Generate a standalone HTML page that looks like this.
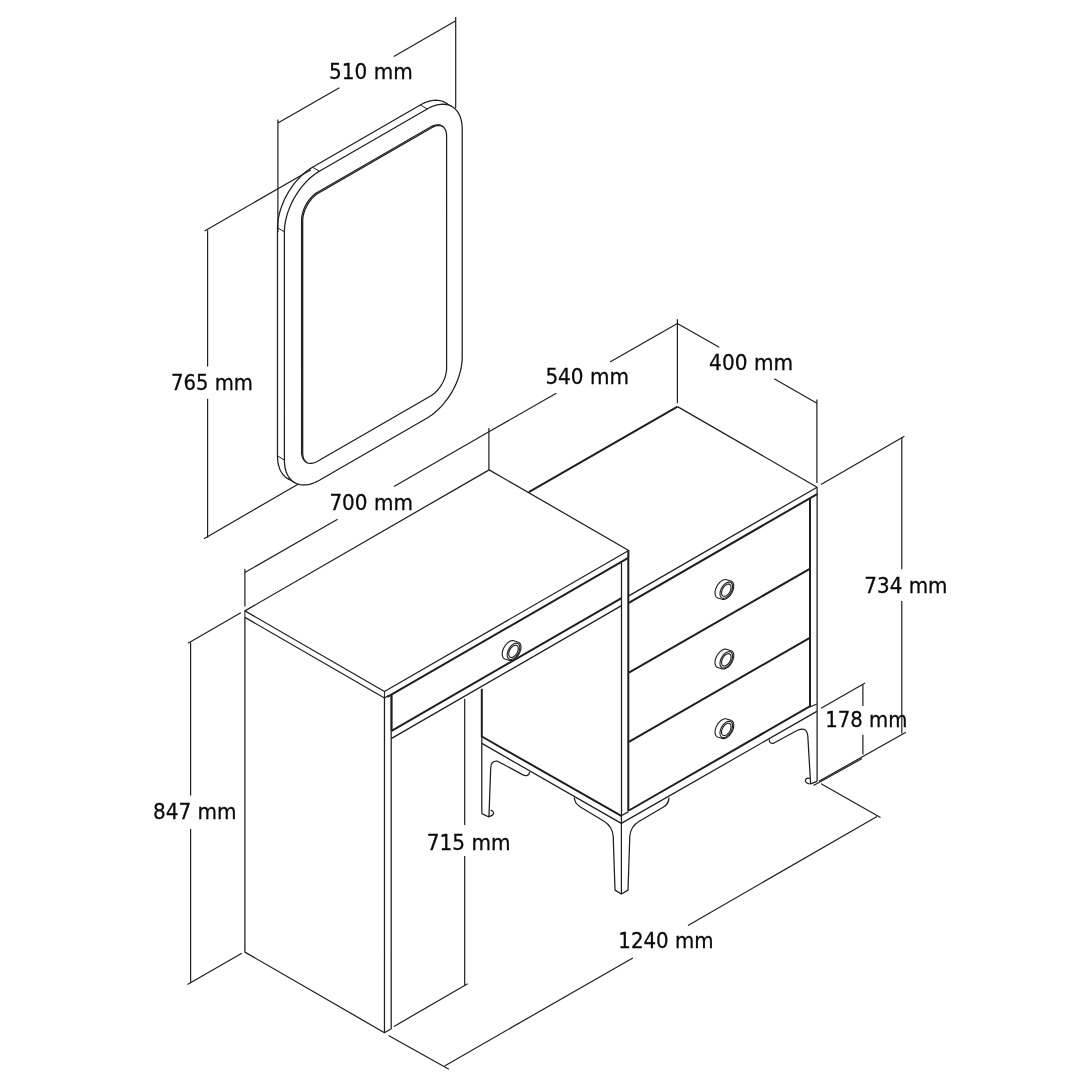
<!DOCTYPE html>
<html><head><meta charset="utf-8"><title>Dimensions</title>
<style>
html,body{margin:0;padding:0;background:#fff;}
svg{display:block;will-change:transform;transform:translateZ(0);}
svg line,svg path,svg rect,svg circle{stroke:#1e1e1e;stroke-linecap:butt;stroke-linejoin:round;}
svg rect,svg circle{vector-effect:non-scaling-stroke;}
svg text{font-family:"DejaVu Sans","Liberation Sans",sans-serif;fill:#0a0a0a;stroke:#0a0a0a;stroke-width:0.3px;}
</style></head><body>
<svg width="1090" height="1090" viewBox="0 0 1090 1090">
<rect x="0" y="0" width="1090" height="1090" fill="#fff" stroke="none" style="stroke:none"/>
<path d="M455.30,125.15 L455.23,122.55 L455.00,120.05 L454.63,117.65 L454.11,115.38 L453.44,113.23 L452.64,111.22 L451.69,109.36 L450.61,107.65 L449.40,106.11 L448.07,104.73 L446.61,103.52 L445.05,102.50 L443.38,101.66 L441.61,101.00 L439.74,100.54 L437.80,100.26 L435.78,100.18 L433.69,100.30 L431.55,100.60 L429.36,101.10 L427.13,101.79 L424.87,102.66 L422.59,103.72 L420.30,104.95 L312.50,167.19 L310.21,168.60 L307.93,170.18 L305.67,171.91 L303.44,173.80 L301.25,175.83 L299.11,178.00 L297.02,180.30 L295.00,182.71 L293.06,185.23 L291.19,187.84 L289.42,190.54 L287.75,193.31 L286.19,196.15 L284.73,199.03 L283.40,201.95 L282.19,204.89 L281.11,207.85 L280.16,210.80 L279.36,213.74 L278.69,216.66 L278.17,219.53 L277.80,222.35 L277.57,225.11 L277.50,227.80 L277.50,456.00 L277.57,458.60 L277.80,461.10 L278.17,463.49 L278.69,465.77 L279.36,467.91 L280.16,469.92 L281.11,471.78 L282.19,473.49 L283.40,475.04 L284.73,476.42 L286.19,477.62 L287.75,478.65 L289.42,479.49 L291.19,480.15 L293.06,480.61 L295.00,480.88 L297.02,480.96 L299.11,480.85 L301.25,480.54 L303.44,480.05 L305.67,479.36 L307.93,478.48 L310.21,477.43 L312.50,476.19 L420.30,413.95 L422.59,412.55 L424.87,410.97 L427.13,409.24 L429.36,407.35 L431.55,405.31 L433.69,403.15 L435.78,400.85 L437.80,398.44 L439.74,395.92 L441.61,393.30 L443.38,390.61 L445.05,387.83 L446.61,385.00 L448.07,382.12 L449.40,379.20 L450.61,376.25 L451.69,373.30 L452.64,370.35 L453.44,367.41 L454.11,364.49 L454.63,361.62 L455.00,358.79 L455.23,356.03 L455.30,353.35 Z" stroke-width="1.25" fill="none" />
<path d="M462.20,129.15 L462.13,126.55 L461.90,124.05 L461.53,121.65 L461.01,119.38 L460.34,117.23 L459.54,115.22 L458.59,113.36 L457.51,111.65 L456.30,110.11 L454.97,108.73 L453.51,107.52 L451.95,106.50 L450.28,105.66 L448.51,105.00 L446.64,104.54 L444.70,104.26 L442.68,104.18 L440.59,104.30 L438.45,104.60 L436.26,105.10 L434.03,105.79 L431.77,106.66 L429.49,107.72 L427.20,108.95 L319.40,171.19 L317.11,172.60 L314.83,174.18 L312.57,175.91 L310.34,177.80 L308.15,179.83 L306.01,182.00 L303.92,184.30 L301.90,186.71 L299.96,189.23 L298.09,191.84 L296.32,194.54 L294.65,197.31 L293.09,200.15 L291.63,203.03 L290.30,205.95 L289.09,208.89 L288.01,211.85 L287.06,214.80 L286.26,217.74 L285.59,220.66 L285.07,223.53 L284.70,226.35 L284.47,229.11 L284.40,231.80 L284.40,460.00 L284.47,462.60 L284.70,465.10 L285.07,467.49 L285.59,469.77 L286.26,471.91 L287.06,473.92 L288.01,475.78 L289.09,477.49 L290.30,479.04 L291.63,480.42 L293.09,481.62 L294.65,482.65 L296.32,483.49 L298.09,484.15 L299.96,484.61 L301.90,484.88 L303.92,484.96 L306.01,484.85 L308.15,484.54 L310.34,484.05 L312.57,483.36 L314.83,482.48 L317.11,481.43 L319.40,480.19 L427.20,417.95 L429.49,416.55 L431.77,414.97 L434.03,413.24 L436.26,411.35 L438.45,409.31 L440.59,407.15 L442.68,404.85 L444.70,402.44 L446.64,399.92 L448.51,397.30 L450.28,394.61 L451.95,391.83 L453.51,389.00 L454.97,386.12 L456.30,383.20 L457.51,380.25 L458.59,377.30 L459.54,374.35 L460.34,371.41 L461.01,368.49 L461.53,365.62 L461.90,362.79 L462.13,360.03 L462.20,357.35 Z" stroke-width="1.25" fill="#fff" />
<line x1="277.50" y1="227.80" x2="284.40" y2="231.80" stroke-width="1.0"/>
<line x1="312.50" y1="167.19" x2="319.40" y2="171.19" stroke-width="1.0"/>
<line x1="420.30" y1="104.95" x2="427.20" y2="108.95" stroke-width="1.0"/>
<line x1="277.50" y1="456.00" x2="284.40" y2="460.00" stroke-width="1.0"/>
<line x1="445.05" y1="102.50" x2="451.95" y2="106.50" stroke-width="1.0"/>
<line x1="287.75" y1="478.65" x2="294.65" y2="482.65" stroke-width="1.0"/>
<path d="M446.60,136.25 L446.57,135.06 L446.46,133.92 L446.29,132.82 L446.05,131.78 L445.75,130.80 L445.38,129.88 L444.95,129.02 L444.46,128.24 L443.90,127.53 L443.29,126.90 L442.63,126.35 L441.91,125.88 L441.15,125.49 L440.34,125.19 L439.49,124.98 L438.60,124.85 L437.68,124.81 L436.72,124.86 L435.74,125.00 L434.74,125.23 L433.72,125.54 L432.69,125.94 L431.65,126.43 L430.60,126.99 L317.60,192.23 L316.55,192.88 L315.51,193.60 L314.48,194.39 L313.46,195.25 L312.46,196.18 L311.48,197.18 L310.52,198.23 L309.60,199.33 L308.71,200.48 L307.86,201.68 L307.05,202.91 L306.29,204.18 L305.57,205.48 L304.91,206.80 L304.30,208.13 L303.74,209.48 L303.25,210.83 L302.82,212.19 L302.45,213.53 L302.15,214.87 L301.91,216.18 L301.74,217.48 L301.63,218.74 L301.60,219.97 L301.60,451.97 L301.63,453.16 L301.74,454.31 L301.91,455.40 L302.15,456.44 L302.45,457.43 L302.82,458.35 L303.25,459.20 L303.74,459.98 L304.30,460.69 L304.91,461.32 L305.57,461.88 L306.29,462.35 L307.05,462.73 L307.86,463.03 L308.71,463.25 L309.60,463.37 L310.52,463.41 L311.48,463.36 L312.46,463.22 L313.46,462.99 L314.48,462.68 L315.51,462.28 L316.55,461.80 L317.60,461.23 L430.60,395.99 L431.65,395.35 L432.69,394.63 L433.72,393.83 L434.74,392.97 L435.74,392.04 L436.72,391.05 L437.68,390.00 L438.60,388.89 L439.49,387.74 L440.34,386.54 L441.15,385.31 L441.91,384.04 L442.63,382.74 L443.29,381.42 L443.90,380.09 L444.46,378.74 L444.95,377.39 L445.38,376.04 L445.75,374.69 L446.05,373.36 L446.29,372.04 L446.46,370.75 L446.57,369.48 L446.60,368.25 Z" stroke-width="1.25" fill="none" />
<clipPath id="ic"><path d="M446.60,136.25 L446.57,135.06 L446.46,133.92 L446.29,132.82 L446.05,131.78 L445.75,130.80 L445.38,129.88 L444.95,129.02 L444.46,128.24 L443.90,127.53 L443.29,126.90 L442.63,126.35 L441.91,125.88 L441.15,125.49 L440.34,125.19 L439.49,124.98 L438.60,124.85 L437.68,124.81 L436.72,124.86 L435.74,125.00 L434.74,125.23 L433.72,125.54 L432.69,125.94 L431.65,126.43 L430.60,126.99 L317.60,192.23 L316.55,192.88 L315.51,193.60 L314.48,194.39 L313.46,195.25 L312.46,196.18 L311.48,197.18 L310.52,198.23 L309.60,199.33 L308.71,200.48 L307.86,201.68 L307.05,202.91 L306.29,204.18 L305.57,205.48 L304.91,206.80 L304.30,208.13 L303.74,209.48 L303.25,210.83 L302.82,212.19 L302.45,213.53 L302.15,214.87 L301.91,216.18 L301.74,217.48 L301.63,218.74 L301.60,219.97 L301.60,451.97 L301.63,453.16 L301.74,454.31 L301.91,455.40 L302.15,456.44 L302.45,457.43 L302.82,458.35 L303.25,459.20 L303.74,459.98 L304.30,460.69 L304.91,461.32 L305.57,461.88 L306.29,462.35 L307.05,462.73 L307.86,463.03 L308.71,463.25 L309.60,463.37 L310.52,463.41 L311.48,463.36 L312.46,463.22 L313.46,462.99 L314.48,462.68 L315.51,462.28 L316.55,461.80 L317.60,461.23 L430.60,395.99 L431.65,395.35 L432.69,394.63 L433.72,393.83 L434.74,392.97 L435.74,392.04 L436.72,391.05 L437.68,390.00 L438.60,388.89 L439.49,387.74 L440.34,386.54 L441.15,385.31 L441.91,384.04 L442.63,382.74 L443.29,381.42 L443.90,380.09 L444.46,378.74 L444.95,377.39 L445.38,376.04 L445.75,374.69 L446.05,373.36 L446.29,372.04 L446.46,370.75 L446.57,369.48 L446.60,368.25 Z"/></clipPath>
<g clip-path="url(#ic)">
<path d="M447.70,136.95 L447.67,135.76 L447.56,134.62 L447.39,133.52 L447.15,132.48 L446.85,131.50 L446.48,130.58 L446.05,129.72 L445.56,128.94 L445.00,128.23 L444.39,127.60 L443.73,127.05 L443.01,126.58 L442.25,126.19 L441.44,125.89 L440.59,125.68 L439.70,125.55 L438.78,125.51 L437.82,125.56 L436.84,125.70 L435.84,125.93 L434.82,126.24 L433.79,126.64 L432.75,127.13 L431.70,127.69 L318.70,192.93 L317.65,193.58 L316.61,194.30 L315.58,195.09 L314.56,195.95 L313.56,196.88 L312.58,197.88 L311.62,198.93 L310.70,200.03 L309.81,201.18 L308.96,202.38 L308.15,203.61 L307.39,204.88 L306.67,206.18 L306.01,207.50 L305.40,208.83 L304.84,210.18 L304.35,211.53 L303.92,212.89 L303.55,214.23 L303.25,215.57 L303.01,216.88 L302.84,218.18 L302.73,219.44 L302.70,220.67 L302.70,452.67 L302.73,453.86 L302.84,455.01 L303.01,456.10 L303.25,457.14 L303.55,458.13 L303.92,459.05 L304.35,459.90 L304.84,460.68 L305.40,461.39 L306.01,462.02 L306.67,462.58 L307.39,463.05 L308.15,463.43 L308.96,463.73 L309.81,463.95 L310.70,464.07 L311.62,464.11 L312.58,464.06 L313.56,463.92 L314.56,463.69 L315.58,463.38 L316.61,462.98 L317.65,462.50 L318.70,461.93 L431.70,396.69 L432.75,396.05 L433.79,395.33 L434.82,394.53 L435.84,393.67 L436.84,392.74 L437.82,391.75 L438.78,390.70 L439.70,389.59 L440.59,388.44 L441.44,387.24 L442.25,386.01 L443.01,384.74 L443.73,383.44 L444.39,382.12 L445.00,380.79 L445.56,379.44 L446.05,378.09 L446.48,376.74 L446.85,375.39 L447.15,374.06 L447.39,372.74 L447.56,371.45 L447.67,370.18 L447.70,368.95 Z" stroke-width="1.25" fill="none" />
</g>
<path d="M244.90,610.86 L384.46,691.44 L628.69,550.43 L489.13,469.85 Z" stroke-width="1.25" fill="none"/>
<path d="M244.90,617.36 L384.46,697.94" stroke-width="1.25" fill="none"/>
<line x1="244.90" y1="610.86" x2="244.90" y2="617.36" stroke-width="1.0"/>
<line x1="384.46" y1="691.44" x2="384.46" y2="697.94" stroke-width="1.0"/>
<line x1="628.69" y1="550.43" x2="628.69" y2="556.93" stroke-width="1.0"/>
<line x1="387.46" y1="696.90" x2="628.69" y2="557.63" stroke-width="2.0"/>
<line x1="384.46" y1="697.94" x2="388.46" y2="695.63" stroke-width="1.25"/>
<path d="M244.90,617.36 L244.90,952.10 L384.46,1032.68 L384.46,697.94" stroke-width="1.25" fill="none"/>
<path d="M391.20,694.05 L391.20,1028.78 L384.46,1032.68" stroke-width="1.25" fill="none"/>
<line x1="391.60" y1="695.20" x2="391.60" y2="730.80" stroke-width="2.0"/>
<line x1="391.60" y1="730.80" x2="621.50" y2="598.07" stroke-width="2.0"/>
<line x1="391.20" y1="738.60" x2="621.50" y2="605.64" stroke-width="1.25"/>
<line x1="621.50" y1="563.00" x2="621.50" y2="816.00" stroke-width="1.25"/>
<line x1="528.80" y1="492.10" x2="677.54" y2="406.60" stroke-width="2.0"/>
<line x1="677.54" y1="406.60" x2="817.10" y2="487.18" stroke-width="1.25"/>
<line x1="817.10" y1="487.18" x2="628.80" y2="595.89" stroke-width="1.25"/>
<line x1="817.10" y1="487.18" x2="817.10" y2="493.98" stroke-width="1.25"/>
<line x1="628.80" y1="602.80" x2="817.10" y2="494.09" stroke-width="2.0"/>
<line x1="628.30" y1="550.43" x2="628.30" y2="811.00" stroke-width="2.0"/>
<line x1="810.00" y1="498.60" x2="810.00" y2="706.20" stroke-width="2.0"/>
<line x1="817.10" y1="493.98" x2="817.10" y2="781.50" stroke-width="1.25"/>
<line x1="628.90" y1="672.60" x2="810.20" y2="568.60" stroke-width="2.0"/>
<line x1="628.90" y1="741.80" x2="810.20" y2="637.60" stroke-width="2.0"/>
<line x1="628.90" y1="810.50" x2="810.20" y2="706.20" stroke-width="2.0"/>
<line x1="621.30" y1="823.40" x2="816.80" y2="711.40" stroke-width="1.25"/>
<line x1="810.00" y1="707.00" x2="816.80" y2="704.00" stroke-width="1.25"/>
<line x1="481.80" y1="688.80" x2="481.80" y2="737.00" stroke-width="2.0"/>
<line x1="481.80" y1="736.00" x2="481.80" y2="813.60" stroke-width="1.25"/>
<line x1="481.80" y1="736.50" x2="621.30" y2="815.80" stroke-width="2.0"/>
<line x1="481.80" y1="743.40" x2="621.30" y2="823.40" stroke-width="1.25"/>
<line x1="621.40" y1="815.80" x2="621.40" y2="894.00" stroke-width="1.25"/>
<line x1="621.30" y1="815.80" x2="628.60" y2="811.60" stroke-width="1.25"/>
<path d="M726.60,579.70 L725.83,579.54 L724.98,579.54 L724.10,579.70 L723.17,580.01 L722.24,580.48 L721.30,581.09 L720.38,581.83 L719.48,582.68 L718.64,583.65 L717.85,584.70 L717.14,585.82 L716.52,586.99 L715.99,588.20 L715.57,589.41 L715.27,590.61 L715.08,591.79 L715.01,592.91 L715.07,593.96 L715.25,594.92 L715.55,595.78 L715.96,596.52 L716.48,597.12 L717.09,597.59 L717.80,597.90 L722.20,599.30 L722.97,599.46 L723.82,599.46 L724.70,599.30 L725.63,598.99 L726.56,598.52 L727.50,597.91 L728.42,597.17 L729.32,596.32 L730.16,595.35 L730.95,594.30 L731.66,593.18 L732.28,592.01 L732.81,590.80 L733.23,589.59 L733.53,588.39 L733.72,587.21 L733.79,586.09 L733.73,585.04 L733.55,584.08 L733.25,583.22 L732.84,582.48 L732.32,581.88 L731.71,581.41 L731.00,581.10 Z" stroke-width="1.1" fill="#fff"/>
<path d="M732.62,586.55 L732.54,585.45 L732.31,584.47 L731.93,583.63 L731.41,582.96 L730.77,582.46 L730.02,582.15 L729.17,582.04 L728.25,582.13 L727.29,582.42 L726.30,582.90 L725.31,583.56 L724.35,584.39 L723.43,585.35 L722.58,586.44 L721.83,587.62 L721.19,588.86 L720.67,590.14 L720.29,591.42 L720.06,592.66 L719.98,593.85 L720.06,594.95 L720.29,595.93 L720.67,596.77 L721.19,597.44 L721.83,597.94 L722.58,598.25 L723.43,598.36 L724.35,598.27 L725.31,597.98 L726.30,597.50 L727.29,596.84 L728.25,596.01 L729.17,595.05 L730.02,593.96 L730.77,592.78 L731.41,591.54 L731.93,590.26 L732.31,588.98 L732.54,587.74 Z" stroke-width="1.1" fill="none"/>
<path d="M731.06,587.45 L731.00,586.62 L730.83,585.89 L730.54,585.25 L730.15,584.74 L729.67,584.37 L729.10,584.13 L728.46,584.05 L727.77,584.12 L727.05,584.34 L726.30,584.70 L725.55,585.20 L724.83,585.82 L724.14,586.55 L723.50,587.37 L722.93,588.26 L722.45,589.19 L722.06,590.15 L721.77,591.12 L721.60,592.06 L721.54,592.95 L721.60,593.78 L721.77,594.51 L722.06,595.15 L722.45,595.66 L722.93,596.03 L723.50,596.27 L724.14,596.35 L724.83,596.28 L725.55,596.06 L726.30,595.70 L727.05,595.20 L727.77,594.58 L728.46,593.85 L729.10,593.03 L729.67,592.14 L730.15,591.21 L730.54,590.25 L730.83,589.28 L731.00,588.34 Z" stroke-width="1.1" fill="none"/>
<path d="M726.60,649.30 L725.83,649.14 L724.98,649.14 L724.10,649.30 L723.17,649.61 L722.24,650.08 L721.30,650.69 L720.38,651.43 L719.48,652.28 L718.64,653.25 L717.85,654.30 L717.14,655.42 L716.52,656.59 L715.99,657.80 L715.57,659.01 L715.27,660.21 L715.08,661.39 L715.01,662.51 L715.07,663.56 L715.25,664.52 L715.55,665.38 L715.96,666.12 L716.48,666.72 L717.09,667.19 L717.80,667.50 L722.20,668.90 L722.97,669.06 L723.82,669.06 L724.70,668.90 L725.63,668.59 L726.56,668.12 L727.50,667.51 L728.42,666.77 L729.32,665.92 L730.16,664.95 L730.95,663.90 L731.66,662.78 L732.28,661.61 L732.81,660.40 L733.23,659.19 L733.53,657.99 L733.72,656.81 L733.79,655.69 L733.73,654.64 L733.55,653.68 L733.25,652.82 L732.84,652.08 L732.32,651.48 L731.71,651.01 L731.00,650.70 Z" stroke-width="1.1" fill="#fff"/>
<path d="M732.62,656.15 L732.54,655.05 L732.31,654.07 L731.93,653.23 L731.41,652.56 L730.77,652.06 L730.02,651.75 L729.17,651.64 L728.25,651.73 L727.29,652.02 L726.30,652.50 L725.31,653.16 L724.35,653.99 L723.43,654.95 L722.58,656.04 L721.83,657.22 L721.19,658.46 L720.67,659.74 L720.29,661.02 L720.06,662.26 L719.98,663.45 L720.06,664.55 L720.29,665.53 L720.67,666.37 L721.19,667.04 L721.83,667.54 L722.58,667.85 L723.43,667.96 L724.35,667.87 L725.31,667.58 L726.30,667.10 L727.29,666.44 L728.25,665.61 L729.17,664.65 L730.02,663.56 L730.77,662.38 L731.41,661.14 L731.93,659.86 L732.31,658.58 L732.54,657.34 Z" stroke-width="1.1" fill="none"/>
<path d="M731.06,657.05 L731.00,656.22 L730.83,655.49 L730.54,654.85 L730.15,654.34 L729.67,653.97 L729.10,653.73 L728.46,653.65 L727.77,653.72 L727.05,653.94 L726.30,654.30 L725.55,654.80 L724.83,655.42 L724.14,656.15 L723.50,656.97 L722.93,657.86 L722.45,658.79 L722.06,659.75 L721.77,660.72 L721.60,661.66 L721.54,662.55 L721.60,663.38 L721.77,664.11 L722.06,664.75 L722.45,665.26 L722.93,665.63 L723.50,665.87 L724.14,665.95 L724.83,665.88 L725.55,665.66 L726.30,665.30 L727.05,664.80 L727.77,664.18 L728.46,663.45 L729.10,662.63 L729.67,661.74 L730.15,660.81 L730.54,659.85 L730.83,658.88 L731.00,657.94 Z" stroke-width="1.1" fill="none"/>
<path d="M726.60,718.90 L725.83,718.74 L724.98,718.74 L724.10,718.90 L723.17,719.21 L722.24,719.68 L721.30,720.29 L720.38,721.03 L719.48,721.88 L718.64,722.85 L717.85,723.90 L717.14,725.02 L716.52,726.19 L715.99,727.40 L715.57,728.61 L715.27,729.81 L715.08,730.99 L715.01,732.11 L715.07,733.16 L715.25,734.12 L715.55,734.98 L715.96,735.72 L716.48,736.32 L717.09,736.79 L717.80,737.10 L722.20,738.50 L722.97,738.66 L723.82,738.66 L724.70,738.50 L725.63,738.19 L726.56,737.72 L727.50,737.11 L728.42,736.37 L729.32,735.52 L730.16,734.55 L730.95,733.50 L731.66,732.38 L732.28,731.21 L732.81,730.00 L733.23,728.79 L733.53,727.59 L733.72,726.41 L733.79,725.29 L733.73,724.24 L733.55,723.28 L733.25,722.42 L732.84,721.68 L732.32,721.08 L731.71,720.61 L731.00,720.30 Z" stroke-width="1.1" fill="#fff"/>
<path d="M732.62,725.75 L732.54,724.65 L732.31,723.67 L731.93,722.83 L731.41,722.16 L730.77,721.66 L730.02,721.35 L729.17,721.24 L728.25,721.33 L727.29,721.62 L726.30,722.10 L725.31,722.76 L724.35,723.59 L723.43,724.55 L722.58,725.64 L721.83,726.82 L721.19,728.06 L720.67,729.34 L720.29,730.62 L720.06,731.86 L719.98,733.05 L720.06,734.15 L720.29,735.13 L720.67,735.97 L721.19,736.64 L721.83,737.14 L722.58,737.45 L723.43,737.56 L724.35,737.47 L725.31,737.18 L726.30,736.70 L727.29,736.04 L728.25,735.21 L729.17,734.25 L730.02,733.16 L730.77,731.98 L731.41,730.74 L731.93,729.46 L732.31,728.18 L732.54,726.94 Z" stroke-width="1.1" fill="none"/>
<path d="M731.06,726.65 L731.00,725.82 L730.83,725.09 L730.54,724.45 L730.15,723.94 L729.67,723.57 L729.10,723.33 L728.46,723.25 L727.77,723.32 L727.05,723.54 L726.30,723.90 L725.55,724.40 L724.83,725.02 L724.14,725.75 L723.50,726.57 L722.93,727.46 L722.45,728.39 L722.06,729.35 L721.77,730.32 L721.60,731.26 L721.54,732.15 L721.60,732.98 L721.77,733.71 L722.06,734.35 L722.45,734.86 L722.93,735.23 L723.50,735.47 L724.14,735.55 L724.83,735.48 L725.55,735.26 L726.30,734.90 L727.05,734.40 L727.77,733.78 L728.46,733.05 L729.10,732.23 L729.67,731.34 L730.15,730.41 L730.54,729.45 L730.83,728.48 L731.00,727.54 Z" stroke-width="1.1" fill="none"/>
<path d="M513.80,640.80 L513.03,640.64 L512.18,640.64 L511.30,640.80 L510.37,641.11 L509.44,641.58 L508.50,642.19 L507.58,642.93 L506.68,643.78 L505.84,644.75 L505.05,645.80 L504.34,646.92 L503.72,648.09 L503.19,649.30 L502.77,650.51 L502.47,651.71 L502.28,652.89 L502.21,654.01 L502.27,655.06 L502.45,656.02 L502.75,656.88 L503.16,657.62 L503.68,658.22 L504.29,658.69 L505.00,659.00 L509.40,660.40 L510.17,660.56 L511.02,660.56 L511.90,660.40 L512.83,660.09 L513.76,659.62 L514.70,659.01 L515.62,658.27 L516.52,657.42 L517.36,656.45 L518.15,655.40 L518.86,654.28 L519.48,653.11 L520.01,651.90 L520.43,650.69 L520.73,649.49 L520.92,648.31 L520.99,647.19 L520.93,646.14 L520.75,645.18 L520.45,644.32 L520.04,643.58 L519.52,642.98 L518.91,642.51 L518.20,642.20 Z" stroke-width="1.1" fill="#fff"/>
<path d="M519.82,647.65 L519.74,646.55 L519.51,645.57 L519.13,644.73 L518.61,644.06 L517.97,643.56 L517.22,643.25 L516.37,643.14 L515.45,643.23 L514.49,643.52 L513.50,644.00 L512.51,644.66 L511.55,645.49 L510.63,646.45 L509.78,647.54 L509.03,648.72 L508.39,649.96 L507.87,651.24 L507.49,652.52 L507.26,653.76 L507.18,654.95 L507.26,656.05 L507.49,657.03 L507.87,657.87 L508.39,658.54 L509.03,659.04 L509.78,659.35 L510.63,659.46 L511.55,659.37 L512.51,659.08 L513.50,658.60 L514.49,657.94 L515.45,657.11 L516.37,656.15 L517.22,655.06 L517.97,653.88 L518.61,652.64 L519.13,651.36 L519.51,650.08 L519.74,648.84 Z" stroke-width="1.1" fill="none"/>
<path d="M518.26,648.55 L518.20,647.72 L518.03,646.99 L517.74,646.35 L517.35,645.84 L516.87,645.47 L516.30,645.23 L515.66,645.15 L514.97,645.22 L514.25,645.44 L513.50,645.80 L512.75,646.30 L512.03,646.92 L511.34,647.65 L510.70,648.47 L510.13,649.36 L509.65,650.29 L509.26,651.25 L508.97,652.22 L508.80,653.16 L508.74,654.05 L508.80,654.88 L508.97,655.61 L509.26,656.25 L509.65,656.76 L510.13,657.13 L510.70,657.37 L511.34,657.45 L512.03,657.38 L512.75,657.16 L513.50,656.80 L514.25,656.30 L514.97,655.68 L515.66,654.95 L516.30,654.13 L516.87,653.24 L517.35,652.31 L517.74,651.35 L518.03,650.38 L518.20,649.44 Z" stroke-width="1.1" fill="none"/>
<path d="M481.8,813.6 L488.4,816.8 L489.0,815.2 L490.7,768 Q490.9,760.4 497.5,761.2 L522.5,774.6 Q528.5,777.5 529.7,771.8" stroke-width="1.25" fill="none"/>
<path d="M488.4,816.8 Q494.8,815 493.3,812 Q492,810 490.6,810.6" stroke-width="1.25" fill="none"/>
<path d="M574.3,797.6 C574.5,803 577,805 580.4,807 L604,821.3 C610,825 612.5,829 613.2,836 L615,890.1 L621.4,894 L628,890.1 L629.8,836 C630.5,829 633,825 639.3,821.3 L663.5,807 C667,805 668.8,802 669,797.6" stroke-width="1.25" fill="none"/>
<path d="M769.3,739.5 Q769,743.8 773.5,743.3 L798,730 Q806.8,726.5 807.8,736 L810.6,783.8 L817,781.3" stroke-width="1.25" fill="none"/>
<path d="M809.8,784 Q804,782.5 805.8,779.2 Q807.5,777.5 810,778.5" stroke-width="1.25" fill="none"/>
<line x1="277.90" y1="119.50" x2="277.90" y2="232.00" stroke-width="1.2"/>
<line x1="455.70" y1="17.00" x2="455.70" y2="108.00" stroke-width="1.2"/>
<line x1="277.90" y1="123.10" x2="339.40" y2="87.80" stroke-width="1.2"/>
<line x1="393.80" y1="56.40" x2="455.40" y2="21.10" stroke-width="1.2"/>
<text x="329.0" y="79.0" font-size="22.0" textLength="83.7" lengthAdjust="spacingAndGlyphs">510 mm</text>
<line x1="207.60" y1="230.30" x2="207.60" y2="366.50" stroke-width="1.2"/>
<line x1="207.60" y1="398.80" x2="207.60" y2="537.40" stroke-width="1.2"/>
<line x1="204.60" y1="230.90" x2="311.00" y2="169.80" stroke-width="1.2"/>
<line x1="204.00" y1="538.70" x2="298.00" y2="484.20" stroke-width="1.2"/>
<text x="171.0" y="389.8" font-size="22.0" textLength="81.9" lengthAdjust="spacingAndGlyphs">765 mm</text>
<line x1="244.90" y1="569.00" x2="244.90" y2="606.40" stroke-width="1.2"/>
<line x1="488.90" y1="428.00" x2="488.90" y2="469.80" stroke-width="1.2"/>
<line x1="244.90" y1="572.50" x2="337.60" y2="519.20" stroke-width="1.2"/>
<line x1="394.00" y1="486.60" x2="488.90" y2="431.80" stroke-width="1.2"/>
<text x="329.4" y="509.6" font-size="22.0" textLength="83.5" lengthAdjust="spacingAndGlyphs">700 mm</text>
<line x1="488.90" y1="431.80" x2="556.30" y2="393.20" stroke-width="1.2"/>
<line x1="610.00" y1="361.90" x2="677.40" y2="323.40" stroke-width="1.2"/>
<line x1="677.40" y1="319.30" x2="677.40" y2="403.20" stroke-width="1.2"/>
<text x="545.4" y="384.1" font-size="22.0" textLength="83.5" lengthAdjust="spacingAndGlyphs">540 mm</text>
<line x1="677.40" y1="323.40" x2="719.20" y2="347.20" stroke-width="1.2"/>
<line x1="774.20" y1="378.80" x2="816.90" y2="403.20" stroke-width="1.2"/>
<line x1="816.90" y1="399.60" x2="816.90" y2="483.00" stroke-width="1.2"/>
<text x="709.1" y="369.5" font-size="22.0" textLength="84.0" lengthAdjust="spacingAndGlyphs">400 mm</text>
<line x1="821.00" y1="484.40" x2="904.40" y2="436.20" stroke-width="1.2"/>
<line x1="901.80" y1="437.60" x2="901.80" y2="569.20" stroke-width="1.2"/>
<line x1="901.80" y1="601.00" x2="901.80" y2="733.60" stroke-width="1.2"/>
<line x1="818.90" y1="781.30" x2="905.90" y2="732.30" stroke-width="1.2"/>
<line x1="813.50" y1="785.60" x2="862.00" y2="758.60" stroke-width="1.2"/>
<text x="864.3" y="592.8" font-size="22.0" textLength="83.2" lengthAdjust="spacingAndGlyphs">734 mm</text>
<line x1="821.10" y1="708.30" x2="865.10" y2="682.90" stroke-width="1.2"/>
<line x1="862.90" y1="685.10" x2="862.90" y2="706.00" stroke-width="1.2"/>
<line x1="862.90" y1="734.70" x2="862.90" y2="754.50" stroke-width="1.2"/>
<text x="825.3" y="727.1" font-size="22.0" textLength="82.1" lengthAdjust="spacingAndGlyphs">178 mm</text>
<line x1="190.60" y1="642.30" x2="190.60" y2="795.50" stroke-width="1.2"/>
<line x1="190.60" y1="829.00" x2="190.60" y2="983.00" stroke-width="1.2"/>
<line x1="188.00" y1="643.30" x2="240.80" y2="612.80" stroke-width="1.2"/>
<line x1="187.50" y1="984.60" x2="241.80" y2="953.30" stroke-width="1.2"/>
<text x="153.0" y="819.2" font-size="22.0" textLength="83.6" lengthAdjust="spacingAndGlyphs">847 mm</text>
<line x1="464.70" y1="698.70" x2="464.70" y2="825.00" stroke-width="1.2"/>
<line x1="464.70" y1="856.10" x2="464.70" y2="985.00" stroke-width="1.2"/>
<line x1="394.00" y1="1026.40" x2="467.70" y2="983.80" stroke-width="1.2"/>
<text x="426.8" y="849.6" font-size="22.0" textLength="83.7" lengthAdjust="spacingAndGlyphs">715 mm</text>
<line x1="388.50" y1="1035.50" x2="448.90" y2="1069.20" stroke-width="1.2"/>
<line x1="821.10" y1="783.80" x2="880.50" y2="817.40" stroke-width="1.2"/>
<line x1="444.60" y1="1065.90" x2="632.80" y2="957.90" stroke-width="1.2"/>
<line x1="688.00" y1="925.50" x2="877.00" y2="816.40" stroke-width="1.2"/>
<text x="618.3" y="947.7" font-size="22.0" textLength="95.3" lengthAdjust="spacingAndGlyphs">1240 mm</text>
</svg>
</body></html>
